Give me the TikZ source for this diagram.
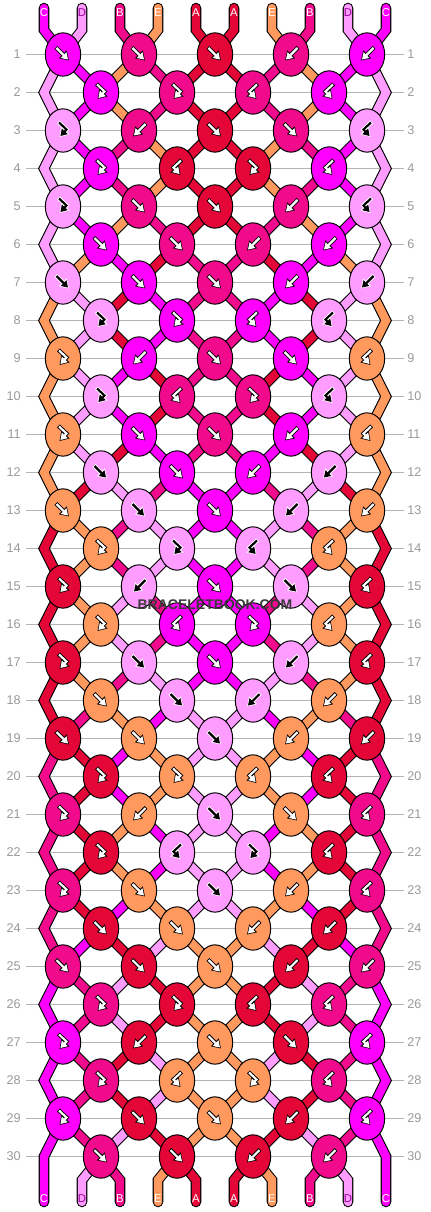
\documentclass[tikz,border=0pt]{standalone}
\usepackage{fontspec}
\setmainfont{Liberation Sans}
\usetikzlibrary{shapes.geometric,arrows.meta}

\definecolor{colA}{HTML}{E30636}
\definecolor{colB}{HTML}{F20A8C}
\definecolor{colC}{HTML}{FF00FF}
\definecolor{colD}{HTML}{FF9CFF}
\definecolor{colE}{HTML}{FF995E}
\colorlet{inkA}{white}\colorlet{inkB}{white}\colorlet{inkC}{white}\colorlet{inkD}{black}\colorlet{inkE}{white}
\colorlet{rimA}{black}\colorlet{rimB}{black}\colorlet{rimC}{black}\colorlet{rimD}{white}\colorlet{rimE}{black}
\colorlet{txtA}{white}\colorlet{txtB}{white}\colorlet{txtC}{white}\colorlet{txtE}{white}
\definecolor{txtD}{HTML}{990099}
\definecolor{rowgrey}{HTML}{B4B4B4}
\definecolor{numgrey}{HTML}{9A9A9A}
\definecolor{markgrey}{HTML}{3A3A3A}

\pgfdeclarelayer{grid}
\pgfdeclarelayer{bg}
\pgfsetlayers{grid,bg,main}

\tikzset{
  knot/.style={ellipse, draw=black, line width=0.75pt, minimum width=26.5pt, minimum height=32.5pt, inner sep=0pt},
  strand/.style={draw=#1, line width=\sw, line cap=round},
  rowline/.style={draw=rowgrey, line width=0.75pt, shorten <=3.75pt, shorten >=2.25pt},
  rownum/.style={text=numgrey, font=\fontsize{9.5}{9.5}\selectfont, inner sep=0pt},
  strandlabel/.style={font=\fontsize{8.5}{8.5}\selectfont, inner sep=0pt},
  arrrim/.style={draw=#1, line width=3pt, shorten <=-0.6pt, -{Triangle[length=6.6pt,width=8pt]}},
  arrink/.style={draw=#1, line width=1.6pt, shorten >=1pt, -{Triangle[length=4.8pt,width=5.8pt]}},
  pics/arr f/.style 2 args={code={
    \draw[arrrim=#2] (-6.5,-6.5) -- (6,6);
    \draw[arrink=#1] (-6.5,-6.5) -- (6,6);
  }},
  pics/arr b/.style 2 args={code={
    \draw[arrrim=#2] (6.5,-6.5) -- (-6,6);
    \draw[arrink=#1] (6.5,-6.5) -- (-6,6);
  }},
  pics/arr fb/.style 2 args={code={
    \draw[arrrim=#2] (-4,-8) -- (3.5,-1) -- (-3.5,6.5);
    \draw[arrink=#1] (-4,-8) -- (3.5,-1) -- (-3.5,6.5);
  }},
  pics/arr bf/.style 2 args={code={
    \draw[arrrim=#2] (4,-8) -- (-3.5,-1) -- (3.5,6.5);
    \draw[arrink=#1] (4,-8) -- (-3.5,-1) -- (3.5,6.5);
  }},
}

\begin{document}
\begin{tikzpicture}[x=0.75pt, y=-0.75pt]
\useasboundingbox (0,0) rectangle (430,1212);
\begin{pgfonlayer}{grid}
  \fill[white] (0,0) rectangle (430,1212);
\end{pgfonlayer}

% Row numbers and guide lines
\foreach \row in {1,...,30} {
  \node[rownum, anchor=east] (ln-\row) at (21,{38*\row+16.5}) {\row};
  \node[rownum, anchor=west] (rn-\row) at (407,{38*\row+16.5}) {\row};
  \begin{pgfonlayer}{grid}
    \draw[rowline] (ln-\row.east) -- (rn-\row.west);
  \end{pgfonlayer}
}

% Knots: colour / knot kind
\foreach \row/\kn in {
  1/{C/f,B/f,A/f,B/b,C/b},
  2/{C/fb,B/fb,B/bf,C/bf},
  3/{D/fb,B/b,A/f,B/f,D/bf},
  4/{C/fb,A/bf,A/fb,C/bf},
  5/{D/fb,B/f,A/f,B/b,D/bf},
  6/{C/f,B/f,B/b,C/b},
  7/{D/f,C/f,B/f,C/b,D/b},
  8/{D/fb,C/fb,C/bf,D/bf},
  9/{E/fb,C/b,B/f,C/f,E/bf},
  10/{D/fb,B/bf,B/fb,D/bf},
  11/{E/fb,C/f,B/f,C/b,E/bf},
  12/{D/f,C/f,C/b,D/b},
  13/{E/f,D/f,C/f,D/b,E/b},
  14/{E/fb,D/fb,D/bf,E/bf},
  15/{A/fb,D/b,C/f,D/f,A/bf},
  16/{E/fb,C/bf,C/fb,E/bf},
  17/{A/fb,D/f,C/f,D/b,A/bf},
  18/{E/f,D/f,D/b,E/b},
  19/{A/f,E/f,D/f,E/b,A/b},
  20/{A/fb,E/fb,E/bf,A/bf},
  21/{B/fb,E/b,D/f,E/f,B/bf},
  22/{A/fb,D/bf,D/fb,A/bf},
  23/{B/fb,E/f,D/f,E/b,B/bf},
  24/{A/f,E/f,E/b,A/b},
  25/{B/f,A/f,E/f,A/b,B/b},
  26/{B/fb,A/fb,A/bf,B/bf},
  27/{C/fb,A/b,E/f,A/f,C/bf},
  28/{B/fb,E/bf,E/fb,B/bf},
  29/{C/fb,A/f,E/f,A/b,C/bf},
  30/{B/f,A/f,A/b,B/b}} {
  \ifodd\row\relax \def\xo{-13}\else \def\xo{25}\fi
  \foreach \cl/\kind [count=\kk] in \kn {
    \node[knot, fill=col\cl] (n-\row-\kk) at ({76*\kk+\xo},{38*\row+16.5}) {};
    \edef\knotpic{\noexpand\pic at (n-\row-\kk.center) {arr \kind={ink\cl}{rim\cl}};}
    \knotpic
  }
}

% Edge turns and strand ends
\foreach \row in {2,4,...,30} {
  \coordinate (tl-\row) at (44,{38*\row+16.5});
  \coordinate (tr-\row) at (386,{38*\row+16.5});
}
\foreach \n in {1,...,10} {
  \coordinate (s-\n) at ({38*\n+6},8);
  \coordinate (bot-\n) at ({38*\n+6},1180);
}

% Strand letters
\foreach \cl [count=\n] in {C,D,B,E,A,A,E,B,D,C} {
  \node[strandlabel, text=txt\cl] (lt-\n) at ({38*\n+6},13) {\cl};
  \node[strandlabel, text=txt\cl] (lb-\n) at ({38*\n+6},1199) {\cl};
}

% Strands: outline first, then colour (order of strands after each row)
\begin{pgfonlayer}{bg}
\foreach \sw/\mix in {7.9pt/0,6.3pt/100} {
  \foreach \row/\st in {
    0/{C,D,B,E,A,A,E,B,D,C},
    1/{D,C,E,B,A,A,B,E,C,D},
    2/{D,C,E,B,A,A,B,E,C,D},
    3/{D,C,B,E,A,A,E,B,C,D},
    4/{D,C,B,E,A,A,E,B,C,D},
    5/{D,C,E,B,A,A,B,E,C,D},
    6/{D,E,C,A,B,B,A,C,E,D},
    7/{E,D,A,C,B,B,C,A,D,E},
    8/{E,D,A,C,B,B,C,A,D,E},
    9/{E,D,C,A,B,B,A,C,D,E},
    10/{E,D,C,A,B,B,A,C,D,E},
    11/{E,D,A,C,B,B,C,A,D,E},
    12/{E,A,D,B,C,C,B,D,A,E},
    13/{A,E,B,D,C,C,D,B,E,A},
    14/{A,E,B,D,C,C,D,B,E,A},
    15/{A,E,D,B,C,C,B,D,E,A},
    16/{A,E,D,B,C,C,B,D,E,A},
    17/{A,E,B,D,C,C,D,B,E,A},
    18/{A,B,E,C,D,D,C,E,B,A},
    19/{B,A,C,E,D,D,E,C,A,B},
    20/{B,A,C,E,D,D,E,C,A,B},
    21/{B,A,E,C,D,D,C,E,A,B},
    22/{B,A,E,C,D,D,C,E,A,B},
    23/{B,A,C,E,D,D,E,C,A,B},
    24/{B,C,A,D,E,E,D,A,C,B},
    25/{C,B,D,A,E,E,A,D,B,C},
    26/{C,B,D,A,E,E,A,D,B,C},
    27/{C,B,A,D,E,E,D,A,B,C},
    28/{C,B,A,D,E,E,D,A,B,C},
    29/{C,B,D,A,E,E,A,D,B,C},
    30/{C,D,B,E,A,A,E,B,D,C}} {
    \pgfmathtruncatemacro\rn{\row+1}
    \pgfmathtruncatemacro\rp{\row-1}
    \foreach \cl [count=\n] in \st {
      \pgfmathtruncatemacro\ka{(\n+1)/2}
      \pgfmathtruncatemacro\kb{\n/2}
      \ifnum\row=0\relax
        \draw[strand=col\cl!\mix!black] (s-\n) -- ++(0,22) -- (n-1-\ka.center);
      \else\ifnum\row=30\relax
        \ifnum\n=1\relax
          \draw[strand=col\cl!\mix!black] (n-29-1.center) -- (tl-30) -- ++(0,45.5);
        \else\ifnum\n=10\relax
          \draw[strand=col\cl!\mix!black] (n-29-5.center) -- (tr-30) -- ++(0,45.5);
        \else
          \draw[strand=col\cl!\mix!black] (n-30-\kb.center) -- (bot-\n) -- ++(0,22);
        \fi\fi
      \else
        \ifnum\n=1\relax
          \ifodd\row\relax\else
            \draw[strand=col\cl!\mix!black] (n-\rp-1.center) -- (tl-\row) -- (n-\rn-1.center);
          \fi
        \else\ifnum\n=10\relax
          \ifodd\row\relax\else
            \draw[strand=col\cl!\mix!black] (n-\rp-5.center) -- (tr-\row) -- (n-\rn-5.center);
          \fi
        \else
          \ifodd\row\relax
            \draw[strand=col\cl!\mix!black] (n-\row-\ka.center) -- (n-\rn-\kb.center);
          \else
            \draw[strand=col\cl!\mix!black] (n-\row-\kb.center) -- (n-\rn-\ka.center);
          \fi
        \fi\fi
      \fi\fi
    }
  }
}
\end{pgfonlayer}

% Watermark
\node[text=markgrey, font=\bfseries\fontsize{10.5}{10.5}\selectfont] (mark) at (215,604.5) {BRACELETBOOK.COM};

\end{tikzpicture}
\end{document}
